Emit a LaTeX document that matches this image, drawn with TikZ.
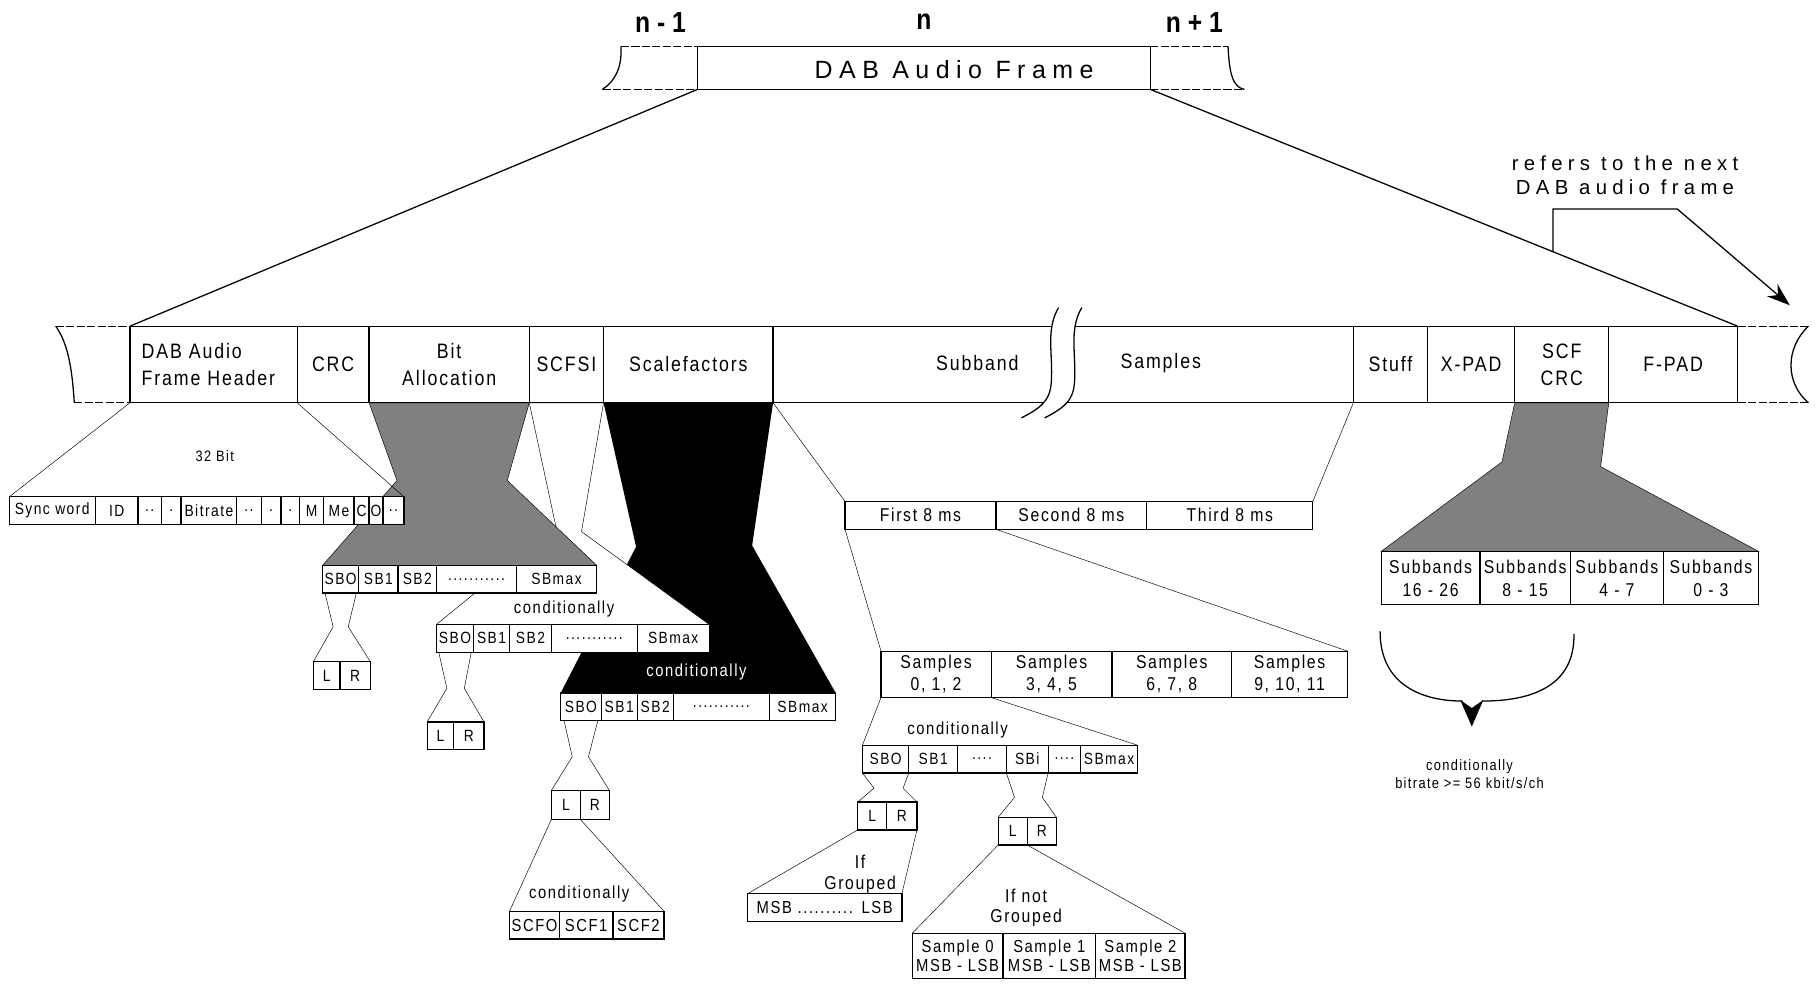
\documentclass[tikz,border=0pt]{standalone}
\usepackage{fontspec}
\setmainfont{Liberation Sans}
\newfontfamily\condfont{Liberation Sans}[FakeStretch=0.85]
\newfontfamily\trackfont{Liberation Sans}[FakeStretch=0.85, LetterSpace=9]
\newfontfamily\widefont{Liberation Sans}[LetterSpace=26]
\usetikzlibrary{positioning, arrows.meta}
\pgfdeclarelayer{background}
\pgfsetlayers{background,main}

\begin{document}
\begin{tikzpicture}[
    x=1pt, y=-1pt,
    line width=1.1pt,
    node distance=0pt,
    cell/.style={draw, fill=white, inner sep=0pt, outer sep=0pt, align=center, text width=#1},
    bigrow/.style={minimum height=66pt, font=\trackfont\fontsize{18}{23}\selectfont},
    smallrow/.style={minimum height=24pt, font=\trackfont\fontsize{14}{16}\selectfont},
    valrow/.style={minimum height=24pt, font=\trackfont\fontsize{15}{17}\selectfont},
    midrow/.style={minimum height=24pt, font=\trackfont\fontsize{16}{18}\selectfont},
    tallrow/.style={minimum height=#1, font=\trackfont\fontsize{16}{19}\selectfont},
    lbl/.style={inner sep=0pt, align=center, font=\trackfont\fontsize{15}{18}\selectfont},
    idx/.style={font=\condfont\bfseries\fontsize{25}{28}\selectfont},
    stub/.style={dash pattern=on 7pt off 2pt},
    fan/.style={draw, fill=black!50}
]
\useasboundingbox (0,0) rectangle (1568,848);

% audio frame n
\node[cell=390pt, minimum height=37pt, anchor=north west] (frame) at (601,40) {};
\node[inner sep=0pt, font=\widefont\fontsize{21.5}{24}\selectfont] (ftitle) at (822,60) {DAB Audio Frame};
\node[idx] (nprev) at (569,19) {n - 1};
\node[idx] (ncur) at (796,19) {n};
\node[idx] (nnext) at (1029,19) {n + 1};
\draw[stub] (535,40) -- (frame.north west);
\draw[stub] (519,77) -- (frame.south west);
\draw (535,40) .. controls (536,58) and (530,70) .. (519,77);
\draw[stub] (frame.north east) -- (1058,40);
\draw[stub] (frame.south east) -- (1072,77);
\draw (1058,40) .. controls (1059,60) and (1061,75) .. (1072,77);

% main row
\node[cell=124pt, bigrow, inner xsep=10pt, align=left, anchor=north west] (hdr) at (112,281) {DAB Audio\\Frame Header};
\node[cell=62pt, bigrow, right=of hdr] (crc) {CRC};
\node[cell=138pt, bigrow, right=of crc] (bal) {Bit\\Allocation};
\node[cell=64pt, bigrow, right=of bal] (scfsi) {SCFSI};
\node[cell=146pt, bigrow, right=of scfsi] (scf) {Scalefactors};
\node[cell=500pt, bigrow, right=of scf] (sub) {};
\node[cell=64pt, bigrow, right=of sub] (stuff) {Stuff};
\node[cell=75pt, bigrow, right=of stuff] (xpad) {X-PAD};
\node[cell=81pt, bigrow, right=of xpad] (scfcrc) {SCF\\CRC};
\node[cell=111pt, bigrow, right=of scfcrc] (fpad) {F-PAD};
\node[lbl, font=\trackfont\fontsize{18}{23}\selectfont] (subl) at (842,313) {Subband};
\node[lbl, font=\trackfont\fontsize{18}{23}\selectfont] (sampl) at (1000,313) {Samples};

\draw (frame.south west) -- (hdr.north west);
\draw (frame.south east) -- (fpad.north east);
\draw[stub] (48,281) -- (hdr.north west);
\draw[stub] (64,347) -- (hdr.south west);
\draw (48,281) .. controls (58,295) and (62,315) .. (64,347);
\draw[stub] (fpad.north east) -- (1558,281);
\draw[stub] (fpad.south east) -- (1558,347);
\draw (1558,281) .. controls (1538,300) and (1538,330) .. (1558,347);

% break in the subband samples
\fill[white] (912,265) .. controls (902,282) and (906,300) .. (906,320) .. controls (906,340) and (904,348) .. (880,360)
    -- (900,360) .. controls (924,348) and (926,340) .. (926,320) .. controls (926,300) and (922,282) .. (932,265) -- cycle;
\draw (912,265) .. controls (902,282) and (906,300) .. (906,320) .. controls (906,340) and (904,348) .. (880,360);
\draw (932,265) .. controls (922,282) and (926,300) .. (926,320) .. controls (926,340) and (924,348) .. (900,360);

% next frame
\node[inner sep=0pt, align=center, font=\widefont\fontsize{17.5}{20}\selectfont] (refers) at (1400,151) {refers to the next\\DAB audio frame};
\coordinate (refbase) at (1338,217);
\coordinate (nextframe) at (1542,263);
\draw[-{Stealth[length=20pt, width=14pt]}] (refbase) -- ++(0,-37) -- ++(107,0) -- (nextframe);

% header
\node[cell=74pt, smallrow, anchor=north west] (sync) at (8,428) {Sync word};
\node[cell=37pt, smallrow, right=of sync] (id) {ID};
\node[cell=20pt, smallrow, right=of id] (hda) {..};
\node[cell=17pt, smallrow, right=of hda] (hdb) {.};
\node[cell=48pt, smallrow, right=of hdb] (rate) {Bitrate};
\node[cell=21pt, smallrow, right=of rate] (hdc) {..};
\node[cell=17pt, smallrow, right=of hdc] (hdd) {.};
\node[cell=16pt, smallrow, right=of hdd] (hde) {.};
\node[cell=21pt, smallrow, right=of hde] (mode) {M};
\node[cell=26pt, smallrow, right=of mode] (mext) {Me};
\node[cell=13pt, smallrow, right=of mext] (copy) {C};
\node[cell=12pt, smallrow, right=of copy] (orig) {O};
\node[cell=18pt, smallrow, right=of orig] (emph) {..};
\node[lbl, font=\trackfont\fontsize{13}{15}\selectfont] (bits) at (185,393) {32 Bit};

% bit allocation
\node[cell=31pt, smallrow, anchor=north west] (sba0) at (278,487) {SBO};
\node[cell=34pt, smallrow, right=of sba0] (sba1) {SB1};
\node[cell=33pt, smallrow, right=of sba1] (sba2) {SB2};
\node[cell=69pt, smallrow, right=of sba2] (sbad) {...........};
\node[cell=69pt, smallrow, right=of sbad] (sbam) {SBmax};
\node[cell=23pt, smallrow, anchor=north west] (la) at (270,570) {L};
\node[cell=26pt, smallrow, right=of la] (ra) {R};

% scfsi
\node[lbl] (conda) at (486,525) {conditionally};
\node[cell=32pt, smallrow, anchor=north west] (sbb0) at (376,538) {SBO};
\node[cell=31pt, smallrow, right=of sbb0] (sbb1) {SB1};
\node[cell=36pt, smallrow, right=of sbb1] (sbb2) {SB2};
\node[cell=74pt, smallrow, right=of sbb2] (sbbd) {...........};
\node[cell=62pt, smallrow, right=of sbbd] (sbbm) {SBmax};
\node[cell=23pt, smallrow, anchor=north west] (lb) at (368,622) {L};
\node[cell=26pt, smallrow, right=of lb] (rb) {R};

% scalefactors
\node[lbl, text=white] (condb) at (600,579) {conditionally};
\node[cell=35pt, smallrow, anchor=north west] (sbc0) at (483,597) {SBO};
\node[cell=31pt, smallrow, right=of sbc0] (sbc1) {SB1};
\node[cell=31pt, smallrow, right=of sbc1] (sbc2) {SB2};
\node[cell=83pt, smallrow, right=of sbc2] (sbcd) {...........};
\node[cell=57pt, smallrow, right=of sbcd] (sbcm) {SBmax};
\node[cell=25pt, smallrow, minimum height=25pt, anchor=north west] (lc) at (475,681) {L};
\node[cell=25pt, smallrow, minimum height=25pt, right=of lc] (rc) {R};
\node[lbl] (condc) at (499,770) {conditionally};
\node[cell=43pt, valrow, anchor=north west] (scf0) at (439,785) {SCFO};
\node[cell=46pt, valrow, right=of scf0] (scf1) {SCF1};
\node[cell=44pt, valrow, right=of scf1] (scf2) {SCF2};

% samples
\node[cell=130pt, midrow, anchor=north west] (ms1) at (728,432) {First 8 ms};
\node[cell=130pt, midrow, right=of ms1] (ms2) {Second 8 ms};
\node[cell=143pt, midrow, right=of ms2] (ms3) {Third 8 ms};
\node[cell=95pt, tallrow=40pt, anchor=north west] (sp0) at (759,561) {Samples\\0, 1, 2};
\node[cell=104pt, tallrow=40pt, right=of sp0] (sp1) {Samples\\3, 4, 5};
\node[cell=103pt, tallrow=40pt, right=of sp1] (sp2) {Samples\\6, 7, 8};
\node[cell=100pt, tallrow=40pt, right=of sp2] (sp3) {Samples\\9, 10, 11};
\node[lbl] (condd) at (825,629) {conditionally};
\node[cell=40pt, smallrow, anchor=north west] (sbd0) at (743,642) {SBO};
\node[cell=42pt, smallrow, right=of sbd0] (sbd1) {SB1};
\node[cell=42pt, smallrow, right=of sbd1] (sbdd) {....};
\node[cell=36pt, smallrow, right=of sbdd] (sbdi) {SBi};
\node[cell=28pt, smallrow, right=of sbdi] (sbde) {....};
\node[cell=49pt, smallrow, right=of sbde] (sbdm) {SBmax};
\node[cell=25pt, smallrow, anchor=north west] (ld) at (739,691) {L};
\node[cell=26pt, smallrow, right=of ld] (rd) {R};
\node[cell=25pt, smallrow, anchor=north west] (le) at (860,704) {L};
\node[cell=25pt, smallrow, right=of le] (re) {R};
\node[lbl, font=\trackfont\fontsize{16}{18}\selectfont] (grp) at (741,753) {If\\Grouped};
\node[cell=133pt, valrow, anchor=north west] (msb) at (644,770) {MSB .......... LSB};
\node[lbl, font=\trackfont\fontsize{16}{18}\selectfont] (nogrp) at (884,782) {If not\\Grouped};
\node[cell=78pt, tallrow=39pt, font=\trackfont\fontsize{15}{17}\selectfont, anchor=north west] (smp0) at (786,804) {Sample 0\\MSB - LSB};
\node[cell=80pt, tallrow=39pt, font=\trackfont\fontsize{15}{17}\selectfont, right=of smp0] (smp1) {Sample 1\\MSB - LSB};
\node[cell=77pt, tallrow=39pt, font=\trackfont\fontsize{15}{17}\selectfont, right=of smp1] (smp2) {Sample 2\\MSB - LSB};

% scf crc
\node[cell=85pt, tallrow=46pt, font=\trackfont\fontsize{16}{20}\selectfont, anchor=north west] (sbn0) at (1190,475) {Subbands\\16 - 26};
\node[cell=78pt, tallrow=46pt, font=\trackfont\fontsize{16}{20}\selectfont, right=of sbn0] (sbn1) {Subbands\\8 - 15};
\node[cell=80pt, tallrow=46pt, font=\trackfont\fontsize{16}{20}\selectfont, right=of sbn1] (sbn2) {Subbands\\4 - 7};
\node[cell=82pt, tallrow=46pt, font=\trackfont\fontsize{16}{20}\selectfont, right=of sbn2] (sbn3) {Subbands\\0 - 3};
\node[lbl, font=\trackfont\fontsize{13}{15}\selectfont] (conde) at (1266,667) {conditionally\\bitrate >= 56 kbit/s/ch};
\coordinate (brl) at (1189,544);
\coordinate (brr) at (1356,546);
\coordinate (brtip) at (1268,626);
\draw (brl) .. controls (1189,592) and (1228,604) .. (1260,604);
\draw (1277,604) .. controls (1318,604) and (1357,592) .. (brr);
\fill (1258,603) -- (brtip) -- (1278,603) -- (1268,610) -- cycle;

% fans behind the rows
\begin{pgfonlayer}{background}
    \fill (scf.south west) -- (scf.south east) -- (648,470) -- (sbcm.north east) -- (sbc0.north west) -- (548,471) -- cycle;
    \filldraw[fill=white] (scfsi.south west) -- (scfsi.south east) -- (501,458) -- (sbbm.north east) -- (sbb0.north west) -- (479,454) -- cycle;
    \path[fan] (bal.south west) -- (bal.south east) -- (437,414) -- (sbam.north east) -- (sba0.north west) -- (342,414) -- cycle;
    \path[fan] (scfcrc.south west) -- (scfcrc.south east) -- (1379,402) -- (sbn3.north east) -- (sbn0.north west) -- (1294,398) -- cycle;
    \draw (hdr.south west) -- (sync.north west);
    \draw (hdr.south east) -- (emph.north east);
\end{pgfonlayer}

\draw (sub.south west) -- (ms1.north west);
\draw (stuff.south west) -- (ms3.north east);
\draw (ms1.south west) -- (sp0.north west);
\draw (ms1.south east) -- (sp3.north east);
\draw (sp0.south west) -- (sbd0.north west);
\draw (sp0.south east) -- (sbdm.north east);

\draw ([xshift=2pt]sba0.south west) -- ++(7,29) -- (la.north west);
\draw ([xshift=-2pt]sba0.south east) -- ++(-7,29) -- (ra.north east);
\draw ([xshift=2pt]sbb0.south west) -- ++(7,31) -- (lb.north west);
\draw ([xshift=-2pt]sbb0.south east) -- ++(-6,31) -- (rb.north east);
\draw ([xshift=3pt]sbc0.south west) -- ++(7,31) -- (lc.north west);
\draw ([xshift=-3pt]sbc0.south east) -- ++(-8,31) -- (rc.north east);
\draw (sbd0.south west) -- ++(10,13) -- (ld.north west);
\draw (sbd0.south east) -- ++(-5,13) -- (rd.north east);
\draw (sbdi.south west) -- ++(7,21) -- (le.north west);
\draw (sbdi.south east) -- ++(-5,21) -- (re.north east);

\draw (lc.south west) -- (scf0.north west);
\draw (lc.south east) -- (scf2.north east);
\draw (ld.south west) -- (msb.north west);
\draw (rd.south east) -- (msb.north east);
\draw (le.south west) -- (smp0.north west);
\draw (le.south east) -- (smp2.north east);
\end{tikzpicture}
\end{document}
